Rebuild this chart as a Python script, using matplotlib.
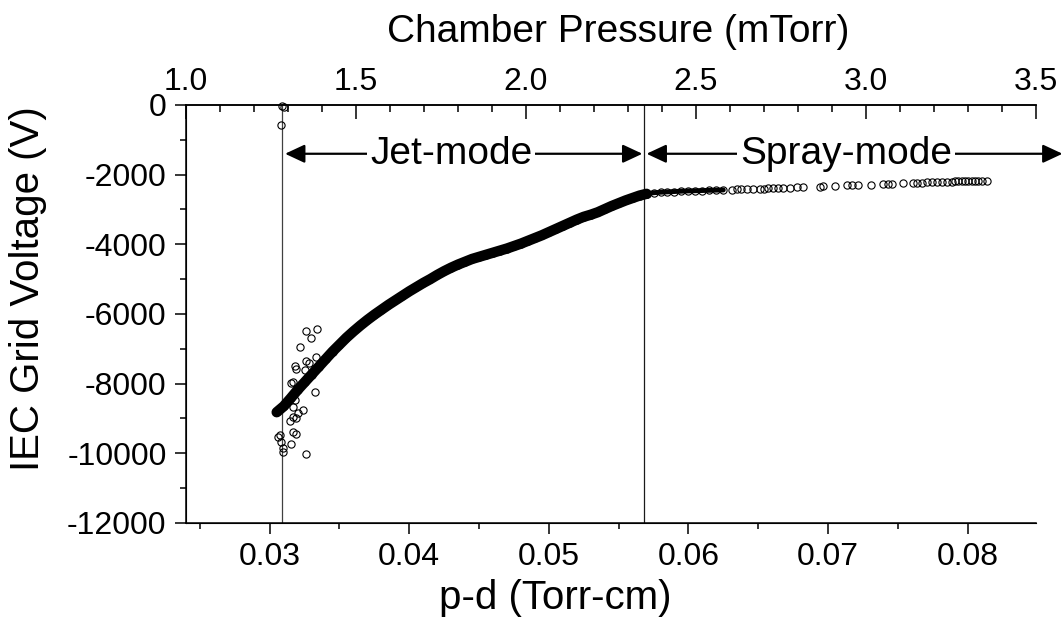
import matplotlib.pyplot as plt
from matplotlib.ticker import MultipleLocator, FormatStrFormatter

plt.rcParams['font.family'] = ['Liberation Sans', 'DejaVu Sans']
plt.rcParams['axes.unicode_minus'] = False

# dense band of the jet-mode part (p-d in Torr-cm, grid voltage in V)
pd_jet = [0.0305, 0.0310, 0.0315, 0.0320, 0.0325, 0.0330, 0.0335, 0.0340, 0.0345, 0.0350,
          0.0355, 0.0360, 0.0365, 0.0370, 0.0375, 0.0380, 0.0385, 0.0390, 0.0395, 0.0400,
          0.0405, 0.0410, 0.0415, 0.0420, 0.0425, 0.0430, 0.0435, 0.0440, 0.0445, 0.0450,
          0.0455, 0.0460, 0.0465, 0.0470, 0.0475, 0.0480, 0.0485, 0.0490, 0.0495, 0.0500,
          0.0505, 0.0510, 0.0515, 0.0520, 0.0525, 0.0530, 0.0535, 0.0540, 0.0545, 0.0550,
          0.0555, 0.0560, 0.0565, 0.0570]
v_jet = [-8820, -8650, -8420, -8180, -7960, -7740, -7520, -7300, -7080, -6880,
         -6680, -6500, -6330, -6170, -6020, -5880, -5740, -5610, -5480, -5350,
         -5230, -5110, -5000, -4880, -4770, -4670, -4580, -4500, -4420, -4360,
         -4300, -4240, -4180, -4120, -4050, -3980, -3900, -3820, -3740, -3650,
         -3560, -3470, -3380, -3290, -3210, -3150, -3080, -2990, -2900, -2820,
         -2740, -2670, -2600, -2550]

# plateau just after the transition
pd_plateau = [0.0570, 0.0575, 0.0580, 0.0585, 0.0590, 0.0595, 0.0600, 0.0605, 0.0610,
              0.0615, 0.0620, 0.0625]
v_plateau = [-2550, -2520, -2505, -2495, -2485, -2475, -2468, -2462, -2456, -2450,
             -2445, -2440]

# sparse spray-mode points
pd_tail = [0.06314, 0.06346, 0.06376, 0.06417, 0.06465, 0.06513, 0.06543, 0.06572, 0.06608,
           0.06644, 0.06680, 0.06728, 0.06776, 0.06823, 0.06943, 0.06962, 0.07050, 0.07134,
           0.07172, 0.07217, 0.07306, 0.07396, 0.07432, 0.07461, 0.07540, 0.07607, 0.07636,
           0.07672, 0.07708, 0.07743, 0.07779, 0.07815, 0.07851, 0.07887, 0.07910, 0.07934,
           0.07958, 0.07982, 0.08006, 0.08030, 0.08054, 0.08078, 0.08102, 0.08138]
v_tail = [-2430, -2425, -2420, -2415, -2410, -2405, -2400, -2395, -2390,
          -2385, -2380, -2370, -2365, -2355, -2340, -2335, -2320, -2310,
          -2305, -2300, -2285, -2270, -2265, -2260, -2250, -2240, -2235,
          -2230, -2225, -2220, -2215, -2210, -2205, -2200, -2195, -2190,
          -2188, -2185, -2182, -2180, -2178, -2175, -2172, -2168]

# scattered points at the start of the discharge
pd_scatter = [0.03263, 0.03339, 0.03299, 0.03215, 0.03335, 0.03263, 0.03282, 0.03179,
              0.03191, 0.03251, 0.03167, 0.03156, 0.03323, 0.03179, 0.03167, 0.03239,
              0.03203, 0.03167, 0.03143, 0.03191, 0.03167, 0.03191, 0.03072, 0.03060,
              0.03084, 0.03156, 0.03096, 0.03096, 0.03263, 0.03084, 0.03090, 0.03105]
v_scatter = [-6480, -6431, -6680, -6957, -7226, -7341, -7416, -7493,
             -7589, -7608, -7944, -7990, -8231, -8469, -8679, -8757,
             -8852, -8949, -9064, -8996, -9380, -9455, -9475, -9541,
             -9667, -9733, -9857, -9953, -10020, -574, -30, -70]

# mode boundaries
pd_start = 0.0309
pd_switch = 0.0568
pd_arrow_end = 0.0868
v_arrow = -1400

fig = plt.figure(figsize=(10.62, 6.22), dpi=100)
ax = fig.add_axes([0.1751, 0.1592, 0.8004, 0.6720])

mk = dict(marker='o', markersize=5.2, markerfacecolor='none', markeredgecolor='black',
          markeredgewidth=0.8)
ax.plot(pd_jet, v_jet, color='black', lw=7.5, solid_capstyle='round', zorder=2)
ax.plot(pd_jet, v_jet, linestyle='none', zorder=3, **mk)
ax.plot(pd_plateau, v_plateau, color='black', lw=3.5, solid_capstyle='round', zorder=2)
ax.plot(pd_plateau, v_plateau, linestyle='none', zorder=3, **mk)
ax.plot(pd_tail, v_tail, linestyle='none', zorder=3, **mk)
ax.plot(pd_scatter, v_scatter, linestyle='none', zorder=3, clip_on=False, **mk)

ax.axvline(pd_start, color='0.25', lw=0.9, zorder=1)
ax.axvline(pd_switch, color='0.1', lw=0.9, zorder=1)

ax.set_xlim(0.024, 0.0849)
ax.set_ylim(-12000, 0)

ax.xaxis.set_major_locator(MultipleLocator(0.01))
ax.xaxis.set_minor_locator(MultipleLocator(0.005))
ax.xaxis.set_major_formatter(FormatStrFormatter('%.2f'))
ax.yaxis.set_major_locator(MultipleLocator(2000))
ax.yaxis.set_minor_locator(MultipleLocator(1000))
ax.tick_params(which='both', direction='out', width=1.1, labelsize=23, top=False, right=False)
ax.tick_params(which='major', length=8, pad=6)
ax.tick_params(which='minor', length=4)
for s in ['left', 'bottom', 'top']:
    ax.spines[s].set_linewidth(1.1)
ax.spines['right'].set_visible(False)

ax.set_xlabel('p-d (Torr-cm)', fontsize=29)
ax.set_ylabel('IEC Grid Voltage (V)', fontsize=29)
ax.xaxis.set_label_coords(0.435, -0.18)
ax.xaxis.label.set_va('center')
ax.yaxis.set_label_coords(-0.186, 0.56)
ax.yaxis.label.set_va('center')

# top axis: chamber pressure
ax2 = ax.twiny()
ax2.set_xlim(1.0, 3.5)
ax2.xaxis.set_major_locator(MultipleLocator(0.5))
ax2.xaxis.set_minor_locator(MultipleLocator(0.1))
ax2.xaxis.set_major_formatter(FormatStrFormatter('%.1f'))
ax2.tick_params(which='both', direction='in', width=1.1, labelsize=23)
ax2.tick_params(which='major', length=10, pad=6)
ax2.tick_params(which='minor', length=5)
ax2.spines['right'].set_visible(False)
ax2.spines['top'].set_linewidth(1.1)
ax2.set_xlabel('Chamber Pressure (mTorr)', fontsize=28)
ax2.xaxis.set_label_coords(0.509, 1.175)
ax2.xaxis.label.set_va('center')

# mode arrows
arrow = dict(arrowstyle='<|-|>,head_length=0.6,head_width=0.28', color='black', lw=1.6,
             shrinkA=0, shrinkB=0, mutation_scale=20)
ax.annotate('', xy=(pd_start + 0.0002, v_arrow), xytext=(pd_switch - 0.0001, v_arrow),
            arrowprops=arrow, annotation_clip=False)
ax.annotate('', xy=(pd_switch + 0.0002, v_arrow), xytext=(pd_arrow_end, v_arrow),
            arrowprops=arrow, annotation_clip=False)
box = dict(facecolor='white', edgecolor='none', pad=2)
ax.text(0.0430, v_arrow, 'Jet-mode', fontsize=28, ha='center', va='center', bbox=box, zorder=5)
ax.text(0.0713, v_arrow, 'Spray-mode', fontsize=28, ha='center', va='center', bbox=box, zorder=5)

fig.savefig('out.png', dpi=100)
